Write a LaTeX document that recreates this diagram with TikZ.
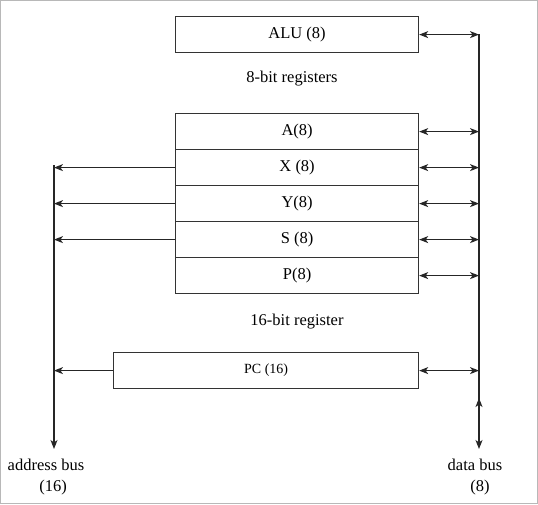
\documentclass[tikz,border=0pt]{standalone}
\usepackage{fontspec}
\setmainfont{Liberation Serif}
\usetikzlibrary{arrows.meta,calc}
\begin{document}
\begin{tikzpicture}[x=1pt,y=-1pt,
  reg/.style={draw=black!80,line width=1.2pt,minimum width=243pt,minimum height=36pt,inner sep=0pt,font=\fontsize{16.5}{18}\selectfont,anchor=north west},
  lbl/.style={font=\fontsize{16.5}{18}\selectfont,inner sep=0pt},
  con/.style={draw=black!85,line width=1.1pt},
  tip/.tip={Stealth[length=9pt,width=7pt,inset=2.5pt]}]
\useasboundingbox (0,0) rectangle (538,504);
\draw[black!28,line width=1pt] (0.5,0.5) rectangle (537.5,503.5);
\node[reg] (alu) at (175,16) {ALU (8)};
\node[lbl] (t8) at (292,79) {8-bit registers};
\node[reg] (a) at (175,113) {A(8)};
\node[reg] (x) at (175,149) {X (8)};
\node[reg] (y) at (175,185) {Y(8)};
\node[reg] (s) at (175,221) {S (8)};
\node[reg] (p) at (175,257) {P(8)};
\node[lbl] (t16) at (297,322) {16-bit register};
\node[reg,minimum width=305pt,font=\fontsize{14}{16}\selectfont] (pc) at (113,352) {PC (16)};
\coordinate (dtop) at (479,34);
\coordinate (dbot) at (479,449);
\coordinate (dmid) at (479,398);
\coordinate (atop) at (54,165);
\coordinate (abot) at (54,449);
\node[lbl] (ab) at (46,465) {address bus};
\node[lbl] (ab2) at (53,488) {(16)};
\node[lbl] (db) at (475,465) {data bus};
\node[lbl] (db2) at (480,488) {(8)};
% data bus
\draw[con,-tip] (dtop) -- (dbot);
\draw[con,-tip] ($(dmid)+(0,12)$) -- (dmid);
% address bus
\draw[con,-tip] (atop) -- (abot);
% right connectors
\foreach \n in {alu,a,x,y,s,p,pc}{
  \draw[con,tip-tip] (\n.east) -- (\n.east -| dtop);
}
% left connectors
\foreach \n in {x,y,s,pc}{
  \draw[con,-tip] (\n.west) -- (\n.west -| atop);
}
\end{tikzpicture}
\end{document}
